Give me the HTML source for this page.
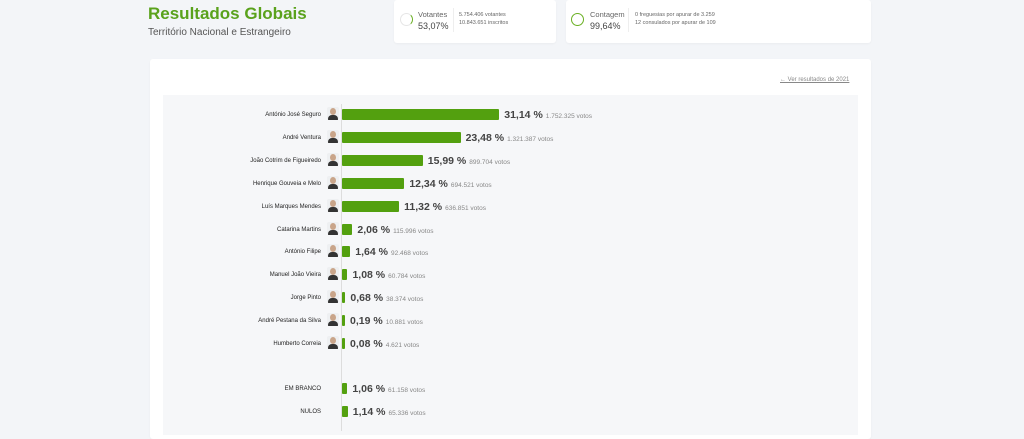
<!DOCTYPE html>
<html><head><meta charset="utf-8"><style>
*{margin:0;padding:0;box-sizing:border-box}
body{width:1024px;height:431px;overflow:hidden;background:#f3f5f8;font-family:"Liberation Sans",sans-serif;position:relative}
.a{position:absolute}
.card{background:#fff;border-radius:3px;box-shadow:0 1px 2px rgba(0,0,0,.04)}
.lab{position:absolute;right:703px;font-size:6px;color:#222;text-align:right;white-space:nowrap}
.av{position:absolute;left:327px;width:12px;height:13px;border-radius:2px;background:#eef0f2;overflow:hidden}
.av:before{content:"";position:absolute;left:3px;top:1px;width:6px;height:7px;border-radius:50%;background:#c9a58a}
.av:after{content:"";position:absolute;left:1px;top:8px;width:10px;height:6px;border-radius:4px 4px 0 0;background:#333}
.bar{position:absolute;left:342px;height:11px;background:#53a00f;border-radius:1px}
.pc{position:absolute;font-size:10.5px;font-weight:bold;color:#444;white-space:nowrap}
.pc span{font-size:6.5px;font-weight:normal;color:#888;margin-left:3px}
</style></head><body>
<div class="a" style="left:148px;top:4px;font-size:17px;font-weight:bold;color:#5aa21c">Resultados Globais</div>
<div class="a" style="left:148px;top:27px;font-size:10px;color:#555">Território Nacional e Estrangeiro</div>
<div class="a card" style="left:394px;top:0;width:162px;height:43px"></div>
<div class="a" style="left:400px;top:13px;width:13px;height:13px;border-radius:50%;border:1.5px solid #e6e6e6;border-right-color:#6ab023"></div>
<div class="a" style="left:418px;top:10px;font-size:7.5px;color:#666">Votantes</div>
<div class="a" style="left:418px;top:21px;font-size:9px;color:#444">53,07%</div>
<div class="a" style="left:453px;top:8px;width:1px;height:24px;background:#eee"></div>
<div class="a" style="left:459px;top:11px;font-size:5.5px;color:#666;line-height:8px">5.754.406 votantes<br>10.843.651 inscritos</div>
<div class="a card" style="left:566px;top:0;width:305px;height:43px"></div>
<div class="a" style="left:571px;top:13px;width:13px;height:13px;border-radius:50%;border:1.5px solid #6ab023"></div>
<div class="a" style="left:590px;top:10px;font-size:7.5px;color:#666">Contagem</div>
<div class="a" style="left:590px;top:21px;font-size:9px;color:#444">99,64%</div>
<div class="a" style="left:628px;top:8px;width:1px;height:24px;background:#eee"></div>
<div class="a" style="left:635px;top:11px;font-size:5.5px;color:#666;line-height:8px">0 freguesias por apurar de 3.259<br>12 consulados por apurar de 109</div>
<div class="a card" style="left:150px;top:59px;width:721px;height:380px"></div>
<div class="a" style="left:780px;top:77px;font-size:6px;color:#888;text-decoration:underline">← Ver resultados de 2021</div>
<div class="a" style="left:163px;top:95px;width:695px;height:340px;background:#f6f7f9"></div>
<div class="a" style="left:341px;top:104px;width:1px;height:327px;background:#ddd"></div>
<div id="c"></div>
<script>
var d=[["António José Seguro",31.14,"31,14 %","1.752.325 votos",114],["André Ventura",23.48,"23,48 %","1.321.387 votos",137],["João Cotrim de Figueiredo",15.99,"15,99 %","899.704 votos",160],["Henrique Gouveia e Melo",12.34,"12,34 %","694.521 votos",183],["Luís Marques Mendes",11.32,"11,32 %","636.851 votos",206],["Catarina Martins",2.06,"2,06 %","115.996 votos",229],["António Filipe",1.64,"1,64 %","92.468 votos",251],["Manuel João Vieira",1.08,"1,08 %","60.784 votos",274],["Jorge Pinto",0.68,"0,68 %","38.374 votos",297],["André Pestana da Silva",0.19,"0,19 %","10.881 votos",320],["Humberto Correia",0.08,"0,08 %","4.621 votos",343],["EM BRANCO",1.06,"1,06 %","61.158 votos",388],["NULOS",1.14,"1,14 %","65.336 votos",411]];
var h="";d.forEach(function(r,i){var w=Math.max(3,r[1]*5.05),y=r[4];
h+='<div class="lab" style="top:'+(y-2)+'px">'+r[0]+'</div>';
if(i<11)h+='<div class="av" style="top:'+(y-7)+'px"></div>';
h+='<div class="bar" style="top:'+(y-5)+'px;width:'+w+'px"></div>';
h+='<div class="pc" style="left:'+(342+w+5)+'px;top:'+(y-5)+'px">'+r[2]+'<span>'+r[3]+'</span></div>';});
document.getElementById("c").innerHTML=h;
</script>
</body></html>
